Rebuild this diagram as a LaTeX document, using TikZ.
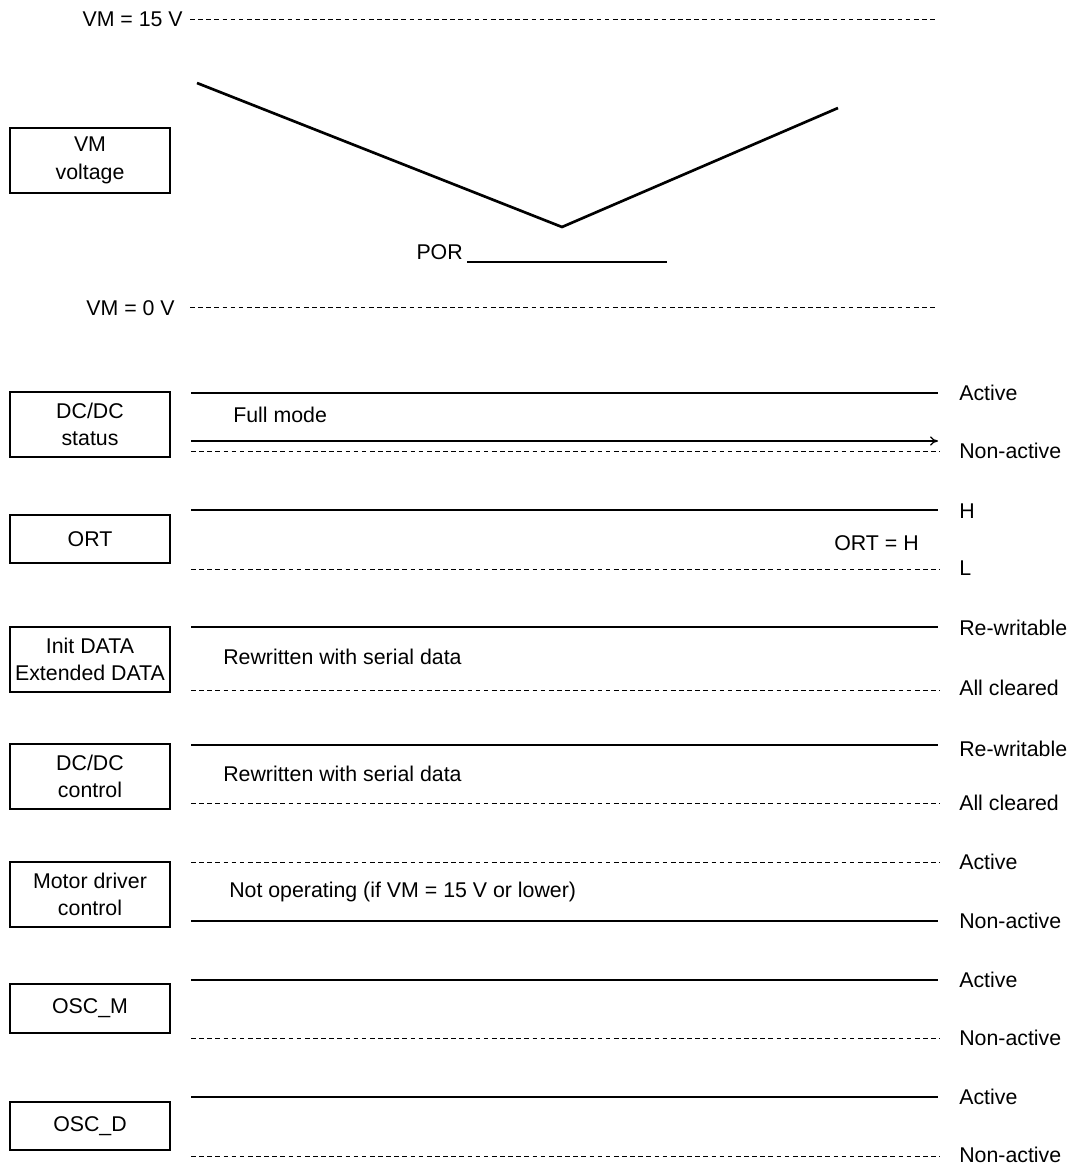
\documentclass[tikz,border=0pt]{standalone}
\usepackage{fontspec}
\setmainfont{Liberation Sans}
\usetikzlibrary{arrows.meta}
\begin{document}
\begin{tikzpicture}[x=0.75pt,y=-0.75pt,
  every node/.style={font=\fontsize{16pt}{20.5pt}\selectfont},
  sigbox/.style={draw,line width=1.4pt,minimum width=120pt,align=center,inner sep=0pt},
  lbl/.style={inner sep=0pt,text height=11.4pt,text depth=0pt},
  hiline/.style={line width=2pt},
  loline/.style={line width=0.65pt,dash pattern=on 3.5pt off 2.6pt},
  thinline/.style={line width=0.9pt},
  vline/.style={line width=2pt,line join=miter}
]
\useasboundingbox (0,0) rectangle (1072,1166);

% ---------- VM voltage ----------
\node[sigbox,minimum height=48.75pt] (vmbox) at (90,160.5) {VM\\voltage};
\node[lbl,anchor=east] (vm15) at (183,19) {VM = 15 V};
\coordinate (d15a) at (190,19); \coordinate (d15b) at (935,19);
\draw[loline] (d15a) -- (d15b);
\node[lbl,anchor=east] (vm0) at (175,308) {VM = 0 V};
\coordinate (d0a) at (190,307); \coordinate (d0b) at (935,307);
\draw[loline] (d0a) -- (d0b);
\coordinate (va) at (197,83); \coordinate (vb) at (562,227); \coordinate (vc) at (838,108);
\draw[vline] (va) -- (vb) -- (vc);
\node[lbl,anchor=east] (por) at (463,252) {POR};
\coordinate (pora) at (467,262); \coordinate (porb) at (667,262);
\draw[thinline] (pora) -- (porb);

% ---------- DC/DC status ----------
\node[sigbox,minimum height=48.75pt] (dcsbox) at (90,424.5) {DC/DC\\status};
\coordinate (s1a) at (191,393); \coordinate (s1b) at (938,393);
\draw[hiline] (s1a) -- (s1b);
\coordinate (s2a) at (191,441); \coordinate (s2b) at (938,441);
\draw[thinline,-{To[length=6pt,width=7pt]}] (s2a) -- (s2b);
\coordinate (s3a) at (191,451); \coordinate (s3b) at (940,451);
\draw[loline] (s3a) -- (s3b);
\node[lbl,anchor=west] (fullmode) at (233,415) {Full mode};
\node[lbl,anchor=west] (sact) at (959,393) {Active};
\node[lbl,anchor=west] (snon) at (959,451) {Non-active};

% ---------- ORT ----------
\node[sigbox,minimum height=36pt] (ortbox) at (90,539) {ORT};
\coordinate (o1a) at (191,510); \coordinate (o1b) at (938,510);
\draw[hiline] (o1a) -- (o1b);
\coordinate (o2a) at (191,569); \coordinate (o2b) at (940,569);
\draw[loline] (o2a) -- (o2b);
\node[lbl,anchor=east] (orth) at (919,543) {ORT = H};
\node[lbl,anchor=west] (oh) at (959,511) {H};
\node[lbl,anchor=west] (ol) at (959,568) {L};

% ---------- Init DATA ----------
\node[sigbox,minimum height=48.75pt] (initbox) at (90,659.5) {Init DATA\\Extended DATA};
\coordinate (i1a) at (191,627); \coordinate (i1b) at (938,627);
\draw[hiline] (i1a) -- (i1b);
\coordinate (i2a) at (191,690); \coordinate (i2b) at (940,690);
\draw[loline] (i2a) -- (i2b);
\node[lbl,anchor=west] (itext) at (223,657) {Rewritten with serial data};
\node[lbl,anchor=west] (irw) at (959,628) {Re-writable};
\node[lbl,anchor=west] (icl) at (959,688) {All cleared};

% ---------- DC/DC control ----------
\node[sigbox,minimum height=48.75pt] (dccbox) at (90,776.5) {DC/DC\\control};
\coordinate (c1a) at (191,745); \coordinate (c1b) at (938,745);
\draw[hiline] (c1a) -- (c1b);
\coordinate (c2a) at (191,803); \coordinate (c2b) at (940,803);
\draw[loline] (c2a) -- (c2b);
\node[lbl,anchor=west] (ctext) at (223,774) {Rewritten with serial data};
\node[lbl,anchor=west] (crw) at (959,749) {Re-writable};
\node[lbl,anchor=west] (ccl) at (959,803) {All cleared};

% ---------- Motor driver control ----------
\node[sigbox,minimum height=48.75pt] (motbox) at (90,894.5) {Motor driver\\control};
\coordinate (m1a) at (191,862); \coordinate (m1b) at (940,862);
\draw[loline] (m1a) -- (m1b);
\coordinate (m2a) at (191,921); \coordinate (m2b) at (938,921);
\draw[hiline] (m2a) -- (m2b);
\node[lbl,anchor=west] (mtext) at (229,890) {Not operating (if VM = 15 V or lower)};
\node[lbl,anchor=west] (mact) at (959,862) {Active};
\node[lbl,anchor=west] (mnon) at (959,921) {Non-active};

% ---------- OSC_M ----------
\node[sigbox,minimum height=36.75pt] (oscmbox) at (90,1008.5) {OSC\_M};
\coordinate (om1a) at (191,980); \coordinate (om1b) at (938,980);
\draw[hiline] (om1a) -- (om1b);
\coordinate (om2a) at (191,1038); \coordinate (om2b) at (940,1038);
\draw[loline] (om2a) -- (om2b);
\node[lbl,anchor=west] (omact) at (959,980) {Active};
\node[lbl,anchor=west] (omnon) at (959,1038) {Non-active};

% ---------- OSC_D ----------
\node[sigbox,minimum height=36pt] (oscdbox) at (90,1126) {OSC\_D};
\coordinate (od1a) at (191,1097); \coordinate (od1b) at (938,1097);
\draw[hiline] (od1a) -- (od1b);
\coordinate (od2a) at (191,1156); \coordinate (od2b) at (940,1156);
\draw[loline] (od2a) -- (od2b);
\node[lbl,anchor=west] (odact) at (959,1097) {Active};
\node[lbl,anchor=west] (odnon) at (959,1155) {Non-active};
\end{tikzpicture}
\end{document}
